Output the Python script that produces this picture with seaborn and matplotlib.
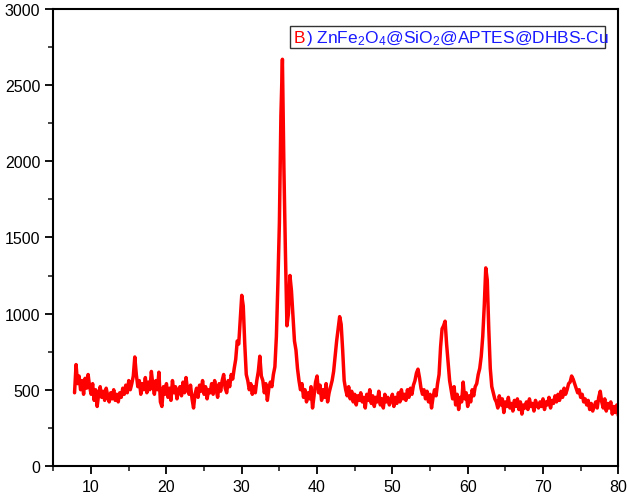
import numpy as np
import pandas as pd
import matplotlib
matplotlib.use("Agg")
import matplotlib.pyplot as plt
import seaborn as sns
from matplotlib.patches import Rectangle
from matplotlib.ticker import MultipleLocator

# 2-theta grid: 7.8 .. 80.0 in 0.2 degree steps
two_theta = np.round(np.arange(7.8, 80.01, 0.2), 1)

intensity = [
    480, 665, 540, 590, 500, 560, 470, 575, 510, 600,      # 7.8
    520, 470, 540, 430, 500, 390, 470, 520, 450, 490,      # 9.8
    430, 510, 460, 420, 480, 440, 500, 430, 470, 420,      # 11.8
    480, 450, 510, 470, 530, 480, 560, 500, 540, 590,      # 13.8
    715, 600, 520, 560, 470, 540, 500, 580, 480, 550,      # 15.8
    500, 620, 530, 470, 560, 500, 615, 420, 390, 520,      # 17.8
    470, 540, 450, 510, 430, 560, 480, 520, 440, 500,      # 19.8
    520, 460, 550, 480, 580, 500, 470, 530, 440, 380,      # 21.8
    470, 510, 450, 530, 490, 560, 470, 520, 440, 500,      # 23.8
    480, 540, 470, 560, 500, 450, 540, 490, 560, 600,      # 25.8
    510, 480, 560, 520, 600, 570, 640, 700, 820, 800,      # 27.8
    960, 1120, 1050, 800, 600, 560, 500, 540, 470, 520,    # 29.8
    480, 560, 620, 720, 590, 560, 480, 540, 430, 510,      # 31.8
    550, 520, 600, 650, 850, 1200, 1600, 2300, 2670, 1950, # 33.8
    1400, 920, 1000, 1250, 1150, 980, 820, 760, 640, 560,  # 35.8
    500, 540, 450, 500, 420, 480, 440, 520, 380, 460,      # 37.8
    550, 590, 480, 530, 430, 500, 450, 540, 420, 480,      # 39.8
    520, 560, 620, 720, 820, 900, 980, 930, 760, 560,      # 41.8
    500, 460, 520, 440, 490, 420, 470, 400, 460, 430,      # 43.8
    480, 420, 450, 380, 470, 430, 500, 410, 460, 390,      # 45.8
    450, 420, 490, 400, 440, 380, 470, 420, 450, 400,      # 47.8
    430, 470, 390, 450, 410, 480, 420, 500, 440, 470,      # 49.8
    430, 500, 450, 510, 470, 530, 560, 610, 635, 580,      # 51.8
    510, 470, 500, 440, 490, 420, 470, 380, 450, 500,      # 53.8
    460, 540, 600, 780, 900, 920, 950, 800, 680, 560,      # 55.8
    500, 440, 520, 400, 470, 370, 450, 420, 550, 440,      # 57.8
    480, 390, 460, 420, 500, 460, 520, 540, 600, 640,      # 59.8
    720, 850, 1050, 1300, 1220, 900, 640, 520, 480, 440,   # 61.8
    420, 380, 460, 400, 440, 350, 420, 390, 450, 380,      # 63.8
    410, 360, 430, 390, 440, 370, 420, 340, 400, 380,      # 65.8
    420, 370, 440, 390, 410, 360, 430, 400, 380, 420,      # 67.8
    390, 440, 370, 420, 400, 450, 380, 430, 410, 460,      # 69.8
    420, 470, 430, 490, 450, 510, 470, 500, 540, 550,      # 71.8
    590, 570, 540, 510, 480, 500, 450, 470, 420, 440,      # 73.8
    400, 430, 370, 410, 360, 390, 420, 380, 450, 490,      # 75.8
    420, 380, 440, 360, 410, 380, 420, 340, 390, 350,      # 77.8
    400, 330,                                              # 79.8
]

label_letter = "B"
label_rest = r") ZnFe$\mathregular{_2}$O$\mathregular{_4}$@SiO$\mathregular{_2}$@APTES@DHBS-Cu"

df = pd.DataFrame({"2theta": two_theta, "Intensity": intensity})

sns.set_style("ticks")
plt.rcParams["font.family"] = ["Liberation Sans", "DejaVu Sans"]
plt.rcParams["mathtext.fontset"] = "custom"
plt.rcParams["mathtext.rm"] = "Liberation Sans"

fig = plt.figure(figsize=(6.29, 5.02), dpi=100)
ax = fig.add_axes([0.085, 0.070, 0.898, 0.910])

sns.lineplot(data=df, x="2theta", y="Intensity", color="red", linewidth=2.5, ax=ax)

ax.set_xlim(5, 80)
ax.set_ylim(0, 3000)
ax.xaxis.set_major_locator(MultipleLocator(10))
ax.xaxis.set_minor_locator(MultipleLocator(5))
ax.yaxis.set_major_locator(MultipleLocator(500))
ax.yaxis.set_minor_locator(MultipleLocator(250))
ax.set_xlabel("")
ax.set_ylabel("")
ax.tick_params(which="major", direction="out", length=6, width=1.3, labelsize=11.5, colors="black")
ax.tick_params(which="minor", direction="out", length=3.5, width=1.2)
ax.tick_params(top=False, right=False, which="both")
for s in ax.spines.values():
    s.set_visible(True)
    s.set_linewidth(1.5)
    s.set_color("black")

# legend-like box with two-coloured text
ax.add_patch(Rectangle((0.419, 0.915), 0.557, 0.048, transform=ax.transAxes,
                       facecolor="white", edgecolor="#333333", linewidth=1.0, zorder=5))
tB = ax.text(0.426, 0.928, label_letter, color="red", fontsize=12.5,
             transform=ax.transAxes, va="baseline", ha="left", zorder=6)
fig.canvas.draw()
bb = tB.get_window_extent()
x_end = ax.transAxes.inverted().transform((bb.x1, bb.y0))[0]
ax.text(x_end, 0.928, label_rest, color="#1a1aff", fontsize=12.5,
        transform=ax.transAxes, va="baseline", ha="left", zorder=6)

fig.savefig("out.png", dpi=100)
